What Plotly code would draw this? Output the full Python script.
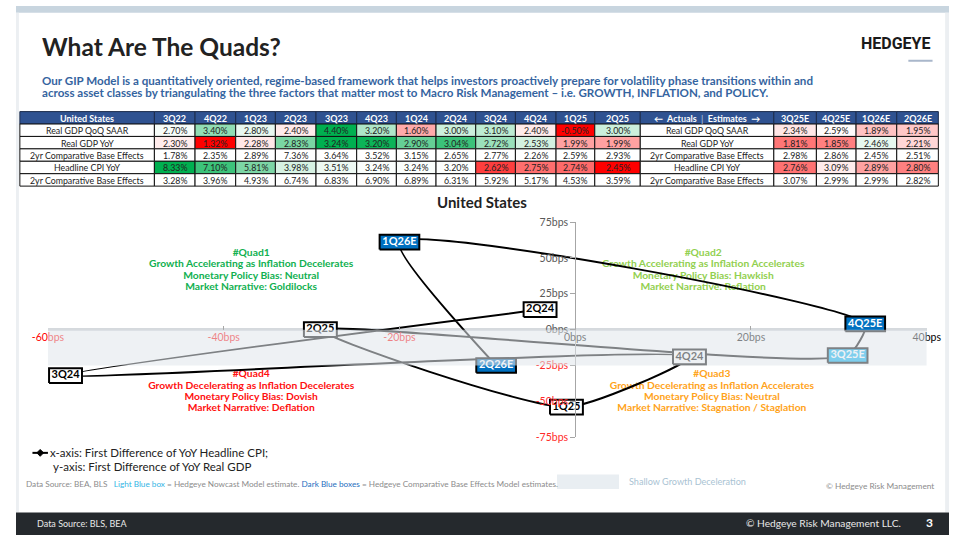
import plotly.graph_objects as go

# ---------------- DATA ----------------
quarters = ["3Q22", "4Q22", "1Q23", "2Q23", "3Q23", "4Q23", "1Q24", "2Q24", "3Q24", "4Q24", "1Q25", "2Q25"]
est_quarters = ["3Q25E", "4Q25E", "1Q26E", "2Q26E"]
row_labels = ["Real GDP QoQ SAAR", "Real GDP YoY", "2yr Comparative Base Effects",
              "Headline CPI YoY", "2yr Comparative Base Effects"]

gdp_qoq = [2.70, 3.40, 2.80, 2.40, 4.40, 3.20, 1.60, 3.00, 3.10, 2.40, -0.50, 3.00]
gdp_qoq_est = [2.34, 2.59, 1.89, 1.95]
gdp_yoy = [2.30, 1.32, 2.28, 2.83, 3.24, 3.20, 2.90, 3.04, 2.72, 2.53, 1.99, 1.99]
gdp_yoy_est = [1.81, 1.85, 2.46, 2.21]
gdp_base = [1.78, 2.35, 2.89, 7.36, 3.64, 3.52, 3.15, 2.65, 2.77, 2.26, 2.59, 2.93]
gdp_base_est = [2.98, 2.86, 2.45, 2.51]
cpi_yoy = [8.33, 7.10, 5.81, 3.98, 3.51, 3.24, 3.24, 3.20, 2.62, 2.75, 2.74, 2.45]
cpi_yoy_est = [2.76, 3.09, 2.89, 2.80]
cpi_base = [3.28, 3.96, 4.93, 6.74, 6.83, 6.90, 6.89, 6.31, 5.92, 5.17, 4.53, 3.59]
cpi_base_est = [3.07, 2.99, 2.99, 2.82]

point_labels = ["2Q24", "3Q24", "4Q24", "1Q25", "2Q25", "3Q25E", "4Q25E", "1Q26E", "2Q26E"]
cpi_diff_bps = [-4, -58, 13, -1, -29, 31, 33, -20, -9]
gdp_diff_bps = [14, -32, -19, -54, 0, -18, 4, 61, -25]
point_kind = ["actual", "actual", "actual", "actual", "actual", "nowcast", "base", "base", "base"]

x_ticks = [-60, -40, -20, 0, 20, 40]
y_ticks = [-75, -50, -25, 0, 25, 50, 75]

quad_texts = [
    ["#Quad1", "Growth Accelerating as Inflation Decelerates", "Monetary Policy Bias: Neutral", "Market Narrative: Goldilocks"],
    ["#Quad2", "Growth Accelerating as Inflation Accelerates", "Monetary Policy Bias: Hawkish", "Market Narrative: Reflation"],
    ["#Quad3", "Growth Decelerating as Inflation Accelerates", "Monetary Policy Bias: Neutral", "Market Narrative: Stagnation / Staglation"],
    ["#Quad4", "Growth Decelerating as Inflation Decelerates", "Monetary Policy Bias: Dovish", "Market Narrative: Deflation"],
]

# ---------------- GEOMETRY HELPERS ----------------
W, H = 964, 541
FONT = "Lato"


def px(x):
    return x / W


def py(y):
    return 1 - y / H


X0_PX, X1_PX = 33, 941
YT_PX, YB_PX = 221, 441
x_range = [-60, 40]
y_range = [-75, 75]
kx = (X1_PX - X0_PX) / (x_range[1] - x_range[0])
ky = (YB_PX - YT_PX) / (y_range[1] - y_range[0])


def dx(xp):
    return x_range[0] + (xp - X0_PX) / kx


def dy(yp):
    return y_range[1] - (yp - YT_PX) / ky


x_zero_px = X0_PX + (0 - x_range[0]) * kx
y_zero_px = YT_PX + (y_range[1] - 0) * ky

fig = go.Figure()
shapes = []
annotations = []

# ---------------- PAGE DECOR ----------------
shapes.append(dict(type="rect", xref="paper", yref="paper", x0=0, x1=1, y0=py(7), y1=1,
                   fillcolor="#c8d5df", line_width=0, layer="below"))
shapes.append(dict(type="rect", xref="paper", yref="paper", x0=0, x1=px(3), y0=py(518), y1=py(7),
                   fillcolor="#eceff2", line_width=0, layer="below"))
shapes.append(dict(type="rect", xref="paper", yref="paper", x0=px(960), x1=1, y0=py(518), y1=py(7),
                   fillcolor="#eceff2", line_width=0, layer="below"))
shapes.append(dict(type="rect", xref="paper", yref="paper", x0=0, x1=1, y0=0, y1=py(518),
                   fillcolor="#25292d", line_width=0, layer="below"))
shapes.append(dict(type="line", xref="paper", yref="paper", x0=px(922), x1=px(947), y0=py(56), y1=py(56),
                   line=dict(color="#a9b7cb", width=2)))


def ann(text, x, y, size, color, xanchor="left", bold=False, family=FONT, **kw):
    annotations.append(dict(text=f"<b>{text}</b>" if bold else text, xref="paper", yref="paper",
                            x=px(x), y=py(y), xanchor=xanchor, yanchor="middle", showarrow=False,
                            font=dict(size=size, color=color, family=family), **kw))


ann("What Are The Quads?", 25, 41, 24.5, "#222222", bold=True)
ann("HEDGEYE", 947, 38, 16, "#1a1a1a", xanchor="right", bold=True, family="Roboto")
ann("Our GIP Model is a quantitatively oriented, regime-based framework that helps investors proactively prepare for volatility phase transitions within and",
    25, 76, 11.6, "#3564a0", bold=True)
ann("across asset classes by triangulating the three factors that matter most to Macro Risk Management – i.e. GROWTH, INFLATION, and POLICY.",
    25, 88, 11.6, "#3564a0", bold=True)

# ---------------- TABLE ----------------
def heat(vals):
    s = sorted(vals)
    n = len(s)
    mid = (s[n // 2 - 1] + s[n // 2]) / 2 if n % 2 == 0 else s[n // 2]
    lo, hi = min(vals), max(vals)
    out = []
    for v in vals:
        if v >= mid:
            t = (v - mid) / (hi - mid) if hi > mid else 0
            c = (0, 176, 80)
        else:
            t = (mid - v) / (mid - lo)
            c = (255, 0, 0)
        out.append("rgb(%d,%d,%d)" % tuple(round(255 + (ci - 255) * t) for ci in c))
    return out


rows_act = [gdp_qoq, gdp_yoy, gdp_base, cpi_yoy, cpi_base]
rows_est = [gdp_qoq_est, gdp_yoy_est, gdp_base_est, cpi_yoy_est, cpi_base_est]
heat_rows = {0, 1, 3}
row_colors = []
for i in range(5):
    allv = rows_act[i] + rows_est[i]
    row_colors.append(heat(allv) if i in heat_rows else ["white"] * len(allv))

col_edges = [4, 143, 185, 227, 268, 310, 352, 393, 434, 475, 516, 558, 598, 645, 783, 827, 868, 910, 953]
row_edges = [108, 120.7, 133.4, 146.1, 158.8, 171.5, 184.2]
headers = ["United States"] + quarters + ["←  Actuals  <span style='color:#9fb3d6'>|</span>  Estimates  →"] + est_quarters
n_act = len(quarters)

for j in range(len(headers)):
    xa, xb = col_edges[j], col_edges[j + 1]
    shapes.append(dict(type="rect", xref="paper", yref="paper", x0=px(xa), x1=px(xb),
                       y0=py(row_edges[1]), y1=py(row_edges[0]), fillcolor="#2f5291",
                       line=dict(color="#1c2c4c", width=1)))
    ann(headers[j], (xa + xb) / 2, (row_edges[0] + row_edges[1]) / 2 + 0.5, 9, "white",
        xanchor="center", bold=True)
    for i in range(5):
        if j == 0 or j == n_act + 1:
            txt, fill = row_labels[i], "white"
        elif j <= n_act:
            txt, fill = f"{rows_act[i][j - 1]:.2f}%", row_colors[i][j - 1]
        else:
            k = j - n_act - 2
            txt, fill = f"{rows_est[i][k]:.2f}%", row_colors[i][n_act + k]
        shapes.append(dict(type="rect", xref="paper", yref="paper", x0=px(xa), x1=px(xb),
                           y0=py(row_edges[i + 2]), y1=py(row_edges[i + 1]), fillcolor=fill,
                           line=dict(color="#111111", width=1)))
        ann(txt, (xa + xb) / 2, (row_edges[i + 1] + row_edges[i + 2]) / 2 + 0.5, 8.8, "#222222",
            xanchor="center")

# ---------------- CHART ----------------
ann("United States", 481, 200, 15, "#222222", xanchor="center", bold=True)

quad_colors = ["#10b050", "#92d050", "#ffa31a", "#ff1010"]
quad_centers = [(243, 253), (710, 253), (719, 377), (243, 377)]
for q in range(4):
    cxp, cyp = quad_centers[q]
    fig.add_trace(go.Scatter(
        x=[dx(cxp)] * 4, y=[dy(cyp + 11.6 * k) for k in range(4)], mode="text",
        text=quad_texts[q], texttemplate="<b>%{text}</b>", textposition="middle center",
        textfont=dict(size=10.3, color=quad_colors[q], family=FONT),
        hoverinfo="skip", showlegend=False, cliponaxis=False))

fig.add_trace(go.Scatter(
    x=cpi_diff_bps, y=gdp_diff_bps, mode="lines",
    line=dict(color="black", width=2, shape="spline", smoothing=0.55),
    hoverinfo="skip", showlegend=False, cliponaxis=False))

box_style = {
    "actual": dict(fill="white", text="black"),
    "nowcast": dict(fill="#00b0f0", text="white"),
    "base": dict(fill="#0070c0", text="white"),
}
BOX_H = 15
for kind, st in box_style.items():
    xs, ys = [], []
    for lab, xv, yv, kd in zip(point_labels, cpi_diff_bps, gdp_diff_bps, point_kind):
        if kd != kind:
            continue
        hw = (7 * len(lab) + 6) / 2 / kx
        hh = BOX_H / 2 / ky
        xs += [xv - hw, xv + hw, xv + hw, xv - hw, xv - hw, None]
        ys += [yv - hh, yv - hh, yv + hh, yv + hh, yv - hh, None]
    fig.add_trace(go.Scatter(x=xs, y=ys, mode="lines", fill="toself", fillcolor=st["fill"],
                             line=dict(color="black", width=2), hoverinfo="skip",
                             showlegend=False, cliponaxis=False))

fig.add_trace(go.Scatter(
    x=cpi_diff_bps, y=gdp_diff_bps, mode="text", text=point_labels,
    texttemplate="<b>%{text}</b>", textposition="middle center",
    textfont=dict(size=11, family=FONT, color=[box_style[k]["text"] for k in point_kind]),
    hoverinfo="skip", showlegend=False, cliponaxis=False))

# shallow growth deceleration band (overlay)
shapes.append(dict(type="rect", xref="x", yref="y", x0=x_range[0], x1=x_range[1], y0=-25, y1=0,
                   fillcolor="rgba(224,230,235,0.56)", line_width=0, layer="above"))


def tick_txt(v, neg_color, pos_color):
    c = neg_color if v < 0 else pos_color
    return f'<span style="color:{c}">{v}bps</span>'


# ---------------- LEGEND / FOOTER ----------------
shapes.append(dict(type="line", xref="paper", yref="paper", x0=px(17), x1=px(33), y0=py(457), y1=py(457),
                   line=dict(color="black", width=2)))
shapes.append(dict(type="path", xref="paper", yref="paper",
                   path=f"M {px(25)},{py(453.5)} L {px(28.5)},{py(457)} L {px(25)},{py(460.5)} L {px(21.5)},{py(457)} Z",
                   fillcolor="black", line=dict(color="black", width=1)))
ann("x-axis: First Difference of YoY Headline CPI;", 33, 457, 11.5, "#222222")
ann("y-axis: First Difference of YoY Real GDP", 36, 471, 11.5, "#222222")

grey = "#8c8c8c"
ann(f'<span style="color:{grey}">Data Source: BEA, BLS &nbsp;&nbsp;</span>'
    f'<span style="color:#33b5e5">Light Blue box</span>'
    f'<span style="color:{grey}"> = Hedgeye Nowcast Model estimate. </span>'
    f'<span style="color:#1f6fc0">Dark Blue boxes</span>'
    f'<span style="color:{grey}"> = Hedgeye Comparative Base Effects Model estimates.</span>',
    8, 489, 8.2, grey)
shapes.append(dict(type="rect", xref="paper", yref="paper", x0=px(559), x1=px(623), y0=py(494), y1=py(479),
                   fillcolor="#e9eef2", line_width=0))
ann("Shallow Growth Deceleration", 631, 486, 9.1, "#a9c3d3")
ann("© Hedgeye Risk Management", 951, 491, 8.3, grey, xanchor="right")

ann("Data Source: BLS, BEA", 20, 529, 9, "#e8e8e8")
ann("© Hedgeye Risk Management LLC.", 916, 529, 10.2, "#e8e8e8", xanchor="right")
ann("3", 944, 528, 12, "white", xanchor="center", bold=True)

# ---------------- LAYOUT ----------------
fig.update_layout(
    width=W, height=H, margin=dict(l=0, r=0, t=0, b=0),
    paper_bgcolor="white", plot_bgcolor="rgba(0,0,0,0)",
    font=dict(family=FONT, color="#222222"),
    showlegend=False,
    xaxis=dict(domain=[px(X0_PX), px(X1_PX)], range=x_range, anchor="free", position=py(y_zero_px),
               showgrid=False, zeroline=False, showline=False,
               tickvals=x_ticks, ticktext=[tick_txt(v, "#ff0000", "#000000") for v in x_ticks],
               ticks="inside", ticklen=4, tickcolor="#a6a6a6", tickfont=dict(size=10.5, family=FONT),
               fixedrange=True),
    yaxis=dict(domain=[py(YB_PX), py(YT_PX)], range=y_range, anchor="free", position=px(x_zero_px),
               showgrid=False, zeroline=True, zerolinecolor="#d5d9dd", zerolinewidth=3,
               showline=True, linecolor="#a6a6a6", linewidth=1,
               tickvals=y_ticks, ticktext=[tick_txt(v, "#ff2a2a", "#595959") for v in y_ticks],
               ticks="outside", ticklen=5, tickcolor="#a6a6a6", tickfont=dict(size=10.5, family=FONT),
               fixedrange=True),
    shapes=shapes, annotations=annotations,
)

fig.write_html(
    "out.html",
    config={"displayModeBar": False},
    post_script="document.body.style.margin='0';document.body.style.padding='0';"
                "var d=document.getElementById('{plot_id}');d.style.position='fixed';"
                "d.style.left='0px';d.style.top='0px';",
)
